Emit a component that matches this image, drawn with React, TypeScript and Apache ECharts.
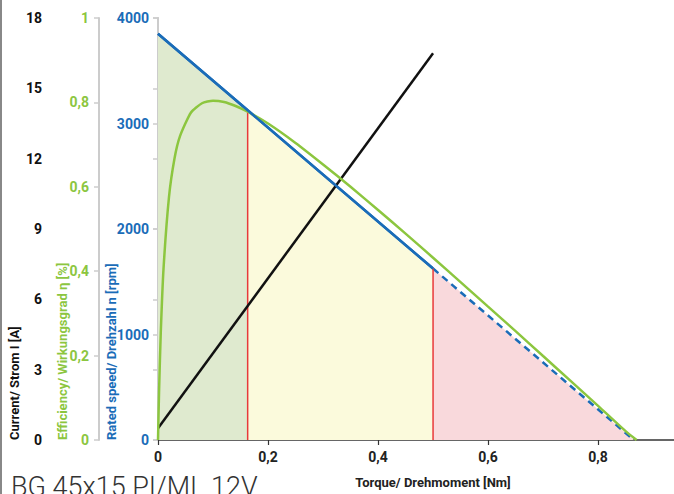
import React, { useEffect, useRef } from "react";
import * as echarts from "echarts";

// ---- data ----
const torqueTicks = [0, 0.2, 0.4, 0.6, 0.8];
const currentTicks = [0, 3, 6, 9, 12, 15, 18];
const efficiencyTicks = [0, 0.2, 0.4, 0.6, 0.8, 1];
const speedTicks = [0, 1000, 2000, 3000, 4000];

// speed characteristic (rpm vs Nm)
const speedGreenZone = [[0, 3850], [0.163, 3125]];
const speedYellowZone = [[0.163, 3125], [0.5, 1625]];
const speedRedZone = [[0.5, 1625], [0.865, 0]];

// current (A vs Nm)
const currentLine = [[0, 0.5], [0.5, 16.5]];

// efficiency (fraction vs Nm)
const effTorque = [0, 0.002, 0.005, 0.01, 0.02, 0.03, 0.04, 0.06, 0.08, 0.1, 0.12, 0.14, 0.163, 0.2, 0.25, 0.3, 0.35, 0.4, 0.45, 0.5, 0.55, 0.6, 0.65, 0.7, 0.75, 0.8, 0.85, 0.87];
const effValues = [0, 0.119, 0.253, 0.405, 0.576, 0.667, 0.72, 0.776, 0.798, 0.804, 0.801, 0.792, 0.778, 0.75, 0.704, 0.653, 0.6, 0.545, 0.489, 0.432, 0.374, 0.316, 0.258, 0.199, 0.14, 0.081, 0.021, 0];

// zone boundaries (Nm, rpm)
const boundary1 = [[0.163, 0], [0.163, 3125]];
const boundary2 = [[0.5, 0], [0.5, 1625]];

const title = "BG 45x15 PI/ML 12V";
const xName = "Torque/ Drehmoment [Nm]";
const currentName = "Current/ Strom I [A]";
const effName = "Efficiency/ Wirkungsgrad η [%]";
const speedName = "Rated speed/ Drehzahl n [rpm]";

const BLUE = "#1a6cb8";
const GREEN = "#8cc63f";
const BLACK = "#111111";
const RED = "#e8383a";
const FONT = "Roboto, sans-serif";

export default function App() {
  const ref = useRef<HTMLDivElement>(null);
  useEffect(() => {
    if (!ref.current) return;
    const chart = echarts.init(ref.current, undefined, { renderer: "svg" });
    const comma = (v: number) => String(Math.round(v * 10) / 10).replace(".", ",");
    const yBase = (offset: number, min: number, max: number, interval: number, color: string, margin: number, fmt: any) => ({
      type: "value",
      position: "left",
      offset,
      min,
      max,
      interval,
      axisLine: { show: true, lineStyle: { color: "#cccccc", width: 2 } },
      axisTick: { show: true, inside: false, length: 5, lineStyle: { color: "#cccccc", width: 1.5 } },
      axisLabel: { color, fontFamily: FONT, fontWeight: "bold", fontSize: 14, margin, formatter: fmt },
      splitLine: { show: false },
    });
    chart.setOption({
      animation: false,
      backgroundColor: "#ffffff",
      grid: { left: 158, right: 0, top: 18, bottom: 54, containLabel: false },
      xAxis: {
        type: "value",
        min: 0,
        max: 0.938,
        interval: 0.2,
        axisLine: { show: true, onZero: false, lineStyle: { color: "#333333", width: 1.5 } },
        axisTick: { show: true, length: 5, lineStyle: { color: "#333333", width: 1.2 } },
        axisLabel: {
          color: "#222222",
          fontFamily: FONT,
          fontWeight: "bold",
          fontSize: 14,
          margin: 10,
          showMaxLabel: false,
          formatter: (v: number) => (torqueTicks.some((t) => Math.abs(t - v) < 1e-6) ? (v === 0 ? "0" : comma(v)) : ""),
        },
        splitLine: { show: false },
      },
      yAxis: [
        yBase(108, currentTicks[0], currentTicks[currentTicks.length - 1], 3, "#111111", 8, (v: number) => String(v)),
        yBase(59, efficiencyTicks[0], efficiencyTicks[efficiencyTicks.length - 1], 0.2, GREEN, 10, (v: number) => (v === 0 ? "0" : v === 1 ? "1" : comma(v))),
        yBase(0, speedTicks[0], speedTicks[speedTicks.length - 1], 1000, BLUE, 9, (v: number) => String(v)),
      ],
      series: [
        {
          type: "line", yAxisIndex: 2, data: speedGreenZone, symbol: "none",
          lineStyle: { color: BLUE, width: 2.5 }, areaStyle: { color: "#dfeacf", opacity: 1 }, z: 1,
        },
        {
          type: "line", yAxisIndex: 2, data: speedYellowZone, symbol: "none",
          lineStyle: { color: BLUE, width: 2.5 }, areaStyle: { color: "#fbfadc", opacity: 1 }, z: 1,
        },
        {
          type: "line", yAxisIndex: 2, data: speedRedZone, symbol: "none",
          lineStyle: { color: BLUE, width: 2.5, type: [7, 5] }, areaStyle: { color: "#f9d9dc", opacity: 1 }, z: 1,
        },
        { type: "line", yAxisIndex: 2, data: boundary1, symbol: "none", lineStyle: { color: RED, width: 1.5 }, z: 2 },
        { type: "line", yAxisIndex: 2, data: boundary2, symbol: "none", lineStyle: { color: RED, width: 1.5 }, z: 2 },
        { type: "line", yAxisIndex: 0, data: currentLine, symbol: "none", lineStyle: { color: BLACK, width: 2.5 }, z: 3 },
        {
          type: "line", yAxisIndex: 1, data: effTorque.map((t, i) => [t, effValues[i]]), symbol: "none", smooth: 0.2,
          lineStyle: { color: GREEN, width: 2.5 }, z: 4,
        },
        {
          type: "line", yAxisIndex: 2, data: [...speedGreenZone, speedYellowZone[1]], symbol: "none",
          lineStyle: { color: BLUE, width: 2.5 }, z: 5,
        },
      ],
      graphic: [
        { type: "line", shape: { x1: 1, y1: 0, x2: 1, y2: 494 }, style: { stroke: "#888888", lineWidth: 2 } },
        {
          type: "text", x: 14, y: 440, rotation: Math.PI / 2,
          style: { text: currentName, fill: "#111111", font: `bold 13px ${FONT}`, align: "left", verticalAlign: "middle" },
        },
        {
          type: "text", x: 62, y: 440, rotation: Math.PI / 2,
          style: { text: effName, fill: GREEN, font: `bold 13px ${FONT}`, align: "left", verticalAlign: "middle" },
        },
        {
          type: "text", x: 111, y: 440, rotation: Math.PI / 2,
          style: { text: speedName, fill: BLUE, font: `bold 13px ${FONT}`, align: "left", verticalAlign: "middle" },
        },
        {
          type: "text", x: 433, y: 482,
          style: { text: xName, fill: "#222222", font: `bold 13px ${FONT}`, align: "center", verticalAlign: "middle" },
        },
        {
          type: "text", x: 11, y: 487,
          style: { text: title, fill: "#333333", font: `300 27px Roboto, sans-serif`, align: "left", verticalAlign: "middle" },
        },
      ],
    });
    return () => chart.dispose();
  }, []);
  return <div ref={ref} style={{ width: 674, height: 494, position: "fixed", left: 0, top: 0 }} />;
}
